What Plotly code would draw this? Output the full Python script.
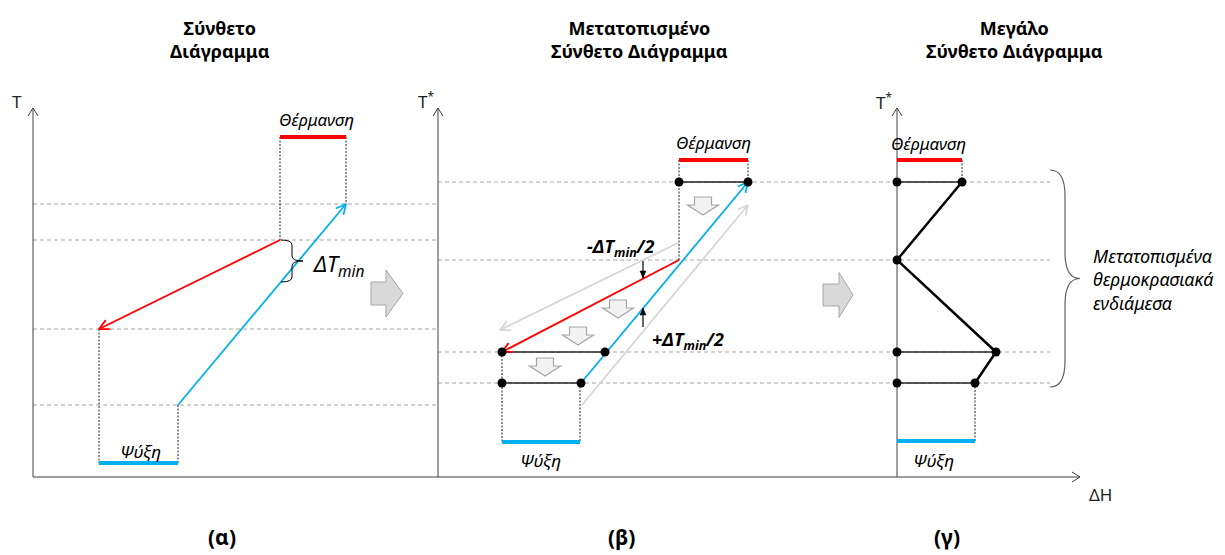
import math
import plotly.graph_objects as go

# ---------------- data (diagram coordinates: x = enthalpy position, y = temperature level, screen units) ----
# Panel (α): composite curves
levels_a = [204, 240, 329, 405]
hot_a_x, hot_a_T = [280, 99], [240, 329]
cold_a_x, cold_a_T = [178, 346], [405, 204]
heat_a_x, heat_a_T = [280, 346], 137
cool_a_x, cool_a_T = [99, 178], 463

# Panel (β): shifted composite curves
levels_b = [182, 260, 352, 383]
hot_b_x, hot_b_T = [679, 502], [260, 352]
cold_b_x, cold_b_T = [581, 748], [383, 182]
ghost_hot_x, ghost_hot_T = [678, 500], [243, 330]
ghost_cold_x, ghost_cold_T = [582, 748], [405, 205]
heat_b_x, heat_b_T = [679, 748], 160
cool_b_x, cool_b_T = [502, 580], 442
int_b_T = [182, 352, 383]
int_b_x0 = [679, 502, 502]
int_b_x1 = [748, 605, 581]

# Panel (γ): grand composite curve
gcc_x = [962, 897, 996, 975]
gcc_T = [182, 260, 352, 383]
heat_g_x, heat_g_T = [897, 962], 160
cool_g_x, cool_g_T = [897, 975], 441

axis_x = [33, 438, 897]
axis_base, axis_top = 477, 108
haxis_end = 1080

titles = ["Σύνθετο<br>Διάγραμμα",
          "Μετατοπισμένο<br>Σύνθετο Διάγραμμα",
          "Μεγάλο<br>Σύνθετο Διάγραμμα"]
title_x = [220, 639, 1014]
panel_labels = ["(α)", "(β)", "(γ)"]
panel_label_x = [222, 622, 947]

RED = "#ff0000"
BLUE = "#00b0f0"
GHOST = "#d6d6d6"
DASH_GRAY = "#a6a6a6"
FONT = "Noto Sans"

fig = go.Figure()
shapes = []
annotations = []


def line(xs, ys, color, width=1.0, dash=None):
    fig.add_trace(go.Scatter(x=xs, y=ys, mode="lines",
                             line=dict(color=color, width=width, dash=dash),
                             hoverinfo="skip", showlegend=False))


def chevron(x0, y0, x1, y1, color, width, L=10, W=5):
    dx, dy = x1 - x0, y1 - y0
    n = math.hypot(dx, dy)
    ux, uy = dx / n, dy / n
    px, py = -uy, ux
    xs = [x1 - L * ux + W * px, x1, x1 - L * ux - W * px]
    ys = [y1 - L * uy + W * py, y1, y1 - L * uy - W * py]
    line(xs, ys, color, width)


def arrow(xs, ys, color, width=1.8):
    line(xs, ys, color, width)
    chevron(xs[-2], ys[-2], xs[-1], ys[-1], color, width)


def small_arrow(x, y0, y1):
    """thin vertical arrow from y0 to y1 with a small filled head"""
    line([x, x], [y0, y1], "#000", 1.2)
    s = 1 if y1 > y0 else -1
    fig.add_trace(go.Scatter(x=[x - 3, x, x + 3, x - 3], y=[y1 - 7 * s, y1, y1 - 7 * s, y1 - 7 * s],
                             mode="lines", fill="toself", fillcolor="#000",
                             line=dict(color="#000", width=0.5),
                             hoverinfo="skip", showlegend=False))


def text(x, y, s, size, color="#000", xanchor="center", align="center",
         italic=False, bold=False):
    annotations.append(dict(x=x, y=y, xref="x", yref="y", text=s, showarrow=False,
                            xanchor=xanchor, yanchor="middle", align=align,
                            font=dict(family=FONT, size=size, color=color,
                                      style="italic" if italic else "normal",
                                      weight="bold" if bold else "normal")))


def brace(x0, y0, y1, depth, color, width):
    h = y1 - y0
    ym = (y0 + y1) / 2
    xm = x0 + depth * 0.5
    xt = x0 + depth
    k = 0.12 * h
    p = (f"M {x0},{y0} Q {xm},{y0} {xm},{y0 + k} L {xm},{ym - k} "
         f"Q {xm},{ym} {xt},{ym} Q {xm},{ym} {xm},{ym + k} "
         f"L {xm},{y1 - k} Q {xm},{y1} {x0},{y1}")
    shapes.append(dict(type="path", path=p, xref="x", yref="y",
                       line=dict(color=color, width=width)))


def block_right(xl, xh, xt, yc, hb, hh):
    p = (f"M {xl},{yc - hb} L {xh},{yc - hb} L {xh},{yc - hh} L {xt},{yc} "
         f"L {xh},{yc + hh} L {xh},{yc + hb} L {xl},{yc + hb} Z")
    shapes.append(dict(type="path", path=p, xref="x", yref="y",
                       fillcolor="#d9d9d9", line=dict(color="#a6a6a6", width=1)))


def block_down(xc, yt, w_body, w_head, h_body, h_head):
    yh = yt + h_body
    p = (f"M {xc - w_body / 2},{yt} L {xc + w_body / 2},{yt} L {xc + w_body / 2},{yh} "
         f"L {xc + w_head / 2},{yh} L {xc},{yh + h_head} L {xc - w_head / 2},{yh} "
         f"L {xc - w_body / 2},{yh} Z")
    shapes.append(dict(type="path", path=p, xref="x", yref="y",
                       fillcolor="#f2f2f2", line=dict(color="#a6a6a6", width=1.2)))


# ---------------- dashed temperature levels ----------------
for T in levels_a:
    line([axis_x[0], 437], [T, T], DASH_GRAY, 1, "4px,3px")
for T in levels_b:
    line([axis_x[1], 1050], [T, T], DASH_GRAY, 1, "4px,3px")

# ---------------- axes ----------------
for ax in axis_x:
    line([ax, ax], [axis_base, axis_top], "#404040", 1)
    chevron(ax, axis_base, ax, axis_top, "#404040", 1, L=8, W=5)
line([axis_x[0], haxis_end], [axis_base, axis_base], "#404040", 1)
chevron(axis_x[0], axis_base, haxis_end, axis_base, "#404040", 1, L=8, W=5)

DOT = "2px,1.5px"
DOTC = "#222"
# ---------------- panel α ----------------
line([heat_a_x[0]] * 2, [heat_a_T, hot_a_T[0]], DOTC, 1, DOT)
line([heat_a_x[1]] * 2, [heat_a_T, cold_a_T[1]], DOTC, 1, DOT)
line([cool_a_x[0]] * 2, [hot_a_T[1], cool_a_T], DOTC, 1, DOT)
line([cool_a_x[1]] * 2, [cold_a_T[0], cool_a_T], DOTC, 1, DOT)
line(heat_a_x, [heat_a_T] * 2, RED, 4)
line(cool_a_x, [cool_a_T] * 2, BLUE, 4)
arrow(hot_a_x, hot_a_T, RED)
arrow(cold_a_x, cold_a_T, BLUE)
brace(281, 240, 282, 22, "#000", 1)
block_right(371, 386, 403, 293.5, 11.5, 23.5)

# ---------------- panel β ----------------
arrow(ghost_hot_x, ghost_hot_T, GHOST)
arrow(ghost_cold_x, ghost_cold_T, GHOST)
line([heat_b_x[0]] * 2, [heat_b_T, hot_b_T[0]], DOTC, 1, DOT)
line([heat_b_x[1]] * 2, [heat_b_T, cold_b_T[1]], DOTC, 1, DOT)
line([cool_b_x[0]] * 2, [hot_b_T[1], cool_b_T], DOTC, 1, DOT)
line([cool_b_x[1]] * 2, [cold_b_T[0], cool_b_T], DOTC, 1, DOT)
line(heat_b_x, [heat_b_T] * 2, RED, 4)
line(cool_b_x, [cool_b_T] * 2, BLUE, 4)
for T, a, b in zip(int_b_T, int_b_x0, int_b_x1):
    line([a, b], [T, T], "#222", 1.5)
arrow(hot_b_x, hot_b_T, RED)
arrow(cold_b_x, cold_b_T, BLUE)
dots_bx = int_b_x0 + int_b_x1
dots_bT = int_b_T + int_b_T
fig.add_trace(go.Scatter(x=dots_bx, y=dots_bT, mode="markers",
                         marker=dict(color="#000", size=9), hoverinfo="skip", showlegend=False))
for xc, yt in [(703, 197), (618, 300), (578, 327), (545, 358)]:
    block_down(xc, yt, 17, 31, 8, 10)
block_right(823, 839, 853, 295, 11, 22.5)

# small ΔTmin/2 arrows
small_arrow(643, 261, 278)
small_arrow(643, 327, 308)

# ---------------- panel γ ----------------
line([heat_g_x[1]] * 2, [heat_g_T, gcc_T[0]], DOTC, 1, DOT)
line([cool_g_x[1]] * 2, [gcc_T[3], cool_g_T], DOTC, 1, DOT)
line(heat_g_x, [heat_g_T] * 2, RED, 4)
line(cool_g_x, [cool_g_T] * 2, BLUE, 4)
for T, xe in [(gcc_T[0], gcc_x[0]), (gcc_T[2], gcc_x[2]), (gcc_T[3], gcc_x[3])]:
    line([axis_x[2], xe], [T, T], "#222", 1.5)
line(gcc_x, gcc_T, "#000", 2.5)
fig.add_trace(go.Scatter(x=[axis_x[2]] * 4 + [gcc_x[0], gcc_x[2], gcc_x[3]],
                         y=gcc_T + [gcc_T[0], gcc_T[2], gcc_T[3]], mode="markers",
                         marker=dict(color="#000", size=9), hoverinfo="skip", showlegend=False))
brace(1050, 170, 387, 30, "#606060", 1.2)

# ---------------- texts ----------------
for s, x in zip(titles, title_x):
    text(x, 39, s, 18, bold=True)
for s, x in zip(panel_labels, panel_label_x):
    text(x, 537, s, 21, bold=True)

text(17, 101, "T", 17, "#222")
text(426, 100, "T<sup>*</sup>", 17, "#222")
text(884, 101, "T<sup>*</sup>", 17, "#222")
text(1100, 494, "ΔH", 17, "#222")

for x, y in [(316, 119), (713, 142), (928, 143)]:
    text(x, y, "Θέρμανση", 17, italic=True)
for x, y in [(140, 451), (540, 460), (933, 460)]:
    text(x, y, "Ψύξη", 17, italic=True)

text(310, 265, "ΔT<sub>min</sub>", 22, xanchor="left", italic=True)
text(620, 247, "-ΔT<sub>min</sub>/2", 18, italic=True, bold=True)
text(688, 340, "+ΔT<sub>min</sub>/2", 18, italic=True, bold=True)
text(1091, 279, "Μετατοπισμένα<br>θερμοκρασιακά<br>ενδιάμεσα", 18,
     xanchor="left", align="left", italic=True)

fig.update_layout(
    width=1225, height=555,
    margin=dict(l=0, r=0, t=0, b=0),
    paper_bgcolor="white", plot_bgcolor="white",
    font=dict(family=FONT),
    xaxis=dict(range=[0, 1225], visible=False, fixedrange=True),
    yaxis=dict(range=[555, 0], visible=False, fixedrange=True),
    shapes=shapes, annotations=annotations,
    showlegend=False,
)

fig.write_html("out.html", config={"displayModeBar": False})
